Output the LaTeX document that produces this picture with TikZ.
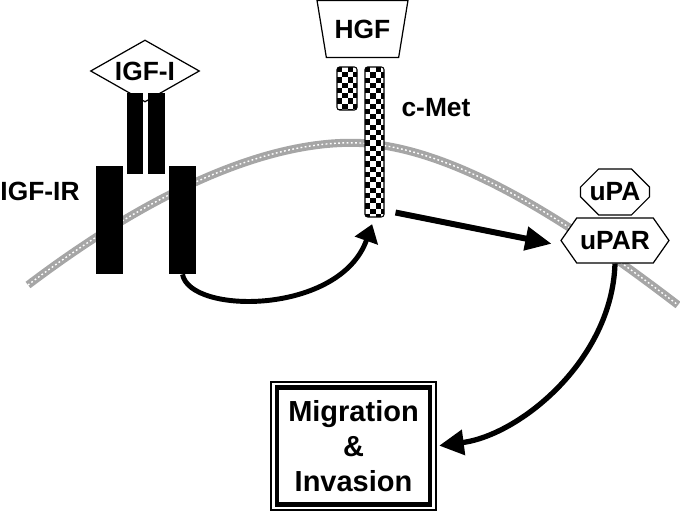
\documentclass[tikz,border=0pt]{standalone}
\usepackage{fontspec}
\setmainfont{Liberation Sans}
\usetikzlibrary{shapes.geometric, shapes.misc, shapes.symbols, arrows.meta, calc, fit}

\tikzset{
    % text and ligand styles
    label text/.style={
        font=\fontsize{15}{18}\selectfont\bfseries
    },
    ligand/.style={
        draw=black,
        fill=white,
        line width=0.7pt,
        inner sep=0pt,
        label text
    },
    % receptor chains
    igf bar/.style={
        rectangle,
        fill=black,
        inner sep=0pt
    },
    met bar/.style={
        rectangle,
        draw=black,
        fill=white,
        line width=0.6pt,
        rounded corners=1.5pt,
        inner sep=0pt,
        minimum width=0.38cm,
        path picture={
            \foreach \i in {0,...,3}{
                \foreach \j in {0,...,29}{
                    \pgfmathtruncatemacro{\chk}{mod(\i+\j,2)}
                    \ifnum\chk=0
                        \fill[black, sharp corners] ($(path picture bounding box.north west)+(\i*0.105cm,-\j*0.105cm)$) rectangle +(0.105cm,-0.105cm);
                    \fi
                }
            }
        }
    },
    % cell membrane
    membrane/.style={
        line width=4.6pt,
        gray!70
    },
    membrane dots/.style={
        line width=0.8pt,
        white,
        dash pattern=on 1pt off 1.4pt
    },
    % arrows
    arrow style/.style={
        -{Triangle[length=10pt, width=13.5pt]},
        line width=2.8pt,
        black
    },
    arrow straight/.style={
        -{Triangle[length=15pt, width=13pt]},
        line width=3.4pt,
        black
    },
    arrow big/.style={
        -{Triangle[length=14pt, width=14pt]},
        line width=3pt,
        black
    }
}

\begin{document}
\begin{tikzpicture}[x=0.02cm, y=-0.02cm]
    \useasboundingbox (0,0) rectangle (680,513);

    % Membrane
    \draw[membrane] (28,285) .. controls (180,170) and (290,140) .. (360,143)
        .. controls (460,148) and (580,230) .. (678,305);
    \draw[membrane dots] (28,285) .. controls (180,170) and (290,140) .. (360,143)
        .. controls (460,148) and (580,230) .. (678,305);

    % IGF-I and its receptor
    \node[ligand, diamond, aspect=1.76, minimum width=2.18cm, minimum height=1.24cm] (igf) at (145,71) {IGF-I};
    \node[igf bar, minimum width=0.54cm, minimum height=2.16cm] (igfr left) at (109.5,220) {};
    \node[igf bar, minimum width=0.54cm, minimum height=2.16cm] (igfr right) at (182.5,220) {};
    \node[igf bar, minimum width=0.32cm, minimum height=1.62cm] (igfr alpha left) at (135,133.5) {};
    \node[igf bar, minimum width=0.34cm, minimum height=1.62cm] (igfr alpha right) at (156.5,133.5) {};
    \node[label text] (igfr label) at (40,191) {IGF-IR};

    % HGF and c-Met
    \node[ligand, trapezium, trapezium stretches, shape border rotate=180,
        trapezium left angle=69, trapezium right angle=69,
        minimum width=1.82cm, minimum height=1.14cm] (hgf) at (362.5,29) {HGF};
    \node[met bar, minimum width=0.4cm, minimum height=0.86cm] (met alpha) at (347,88.5) {};
    \node[met bar, minimum height=3cm] (met) at (374.5,142) {};
    \node[label text] (met label) at (436,108) {c-Met};

    % uPA and uPAR
    \node[ligand, chamfered rectangle, chamfered rectangle xsep=0.2cm, chamfered rectangle ysep=0.18cm,
        minimum width=1.28cm, minimum height=0.92cm] (upa) at (615,192) {uPA};
    \node[ligand, signal, signal to=west and east, signal pointer angle=110,
        minimum width=2.16cm, minimum height=0.9cm] (upar) at (615,240.5) {uPAR};

    % Outcome
    \node[font=\fontsize{16.5}{19.8}\selectfont\bfseries, align=center, draw, line width=2.6pt,
        minimum width=3.06cm, minimum height=2.34cm, inner sep=0pt] (migr) at (353.5,446)
        {Migration\\\&\\Invasion};
    \node[draw, line width=0.9pt, fit=(migr), inner sep=2pt] (migr frame) {};

    % Signalling arrows
    \draw[arrow style, shorten >=4pt] (igfr right.south) .. controls (190,315) and (340,315) .. (met.south);
    \draw[arrow straight, shorten >=5pt] ($(met.south east)+(11,-5)$) -- ([yshift=-0.1cm]upar.west);
    \draw[arrow big, shorten >=1.5pt] (upar.south) .. controls (612,360) and (520,435) .. (migr frame.east);
\end{tikzpicture}
\end{document}
